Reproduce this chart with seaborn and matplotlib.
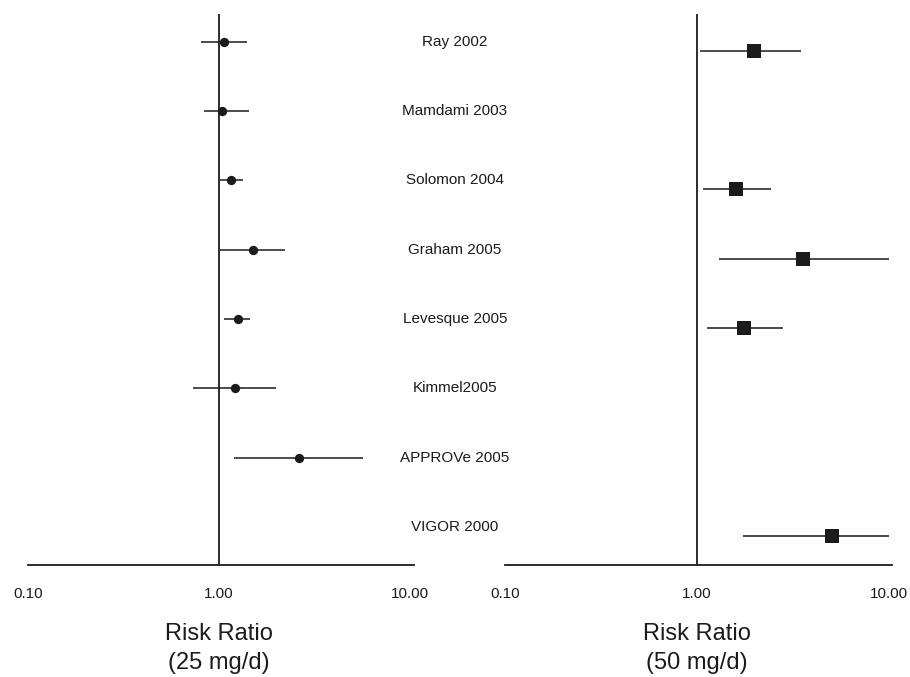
import numpy as np
import pandas as pd
import matplotlib
matplotlib.use("Agg")
import matplotlib.pyplot as plt
import matplotlib.transforms as mtransforms
import seaborn as sns

# Study names, top to bottom
studies = ["Ray 2002", "Mamdami 2003", "Solomon 2004", "Graham 2005",
           "Levesque 2005", "Kimmel2005", "APPROVe 2005", "VIGOR 2000"]

# 25 mg/d risk ratios with 95% CI (nan = no estimate)
rr25 = [1.06, 1.04, 1.16, 1.50, 1.26, 1.21, 2.62, np.nan]
lo25 = [0.80, 0.83, 1.01, 1.01, 1.06, 0.73, 1.20, np.nan]
hi25 = [1.40, 1.44, 1.33, 2.21, 1.45, 1.99, 5.67, np.nan]

# 50 mg/d risk ratios with 95% CI
rr50 = [1.98, np.nan, 1.60, 3.57, 1.76, np.nan, np.nan, 5.05]
lo50 = [1.04, np.nan, 1.07, 1.30, 1.13, np.nan, np.nan, 1.74]
hi50 = [3.48, np.nan, 2.43, 10.0, 2.80, np.nan, np.nan, 10.0]

ticks = [0.1, 1.0, 10.0]
INK = "#1c1a1b"

sns.set_theme(style="white")
plt.rcParams['font.family'] = ['Liberation Sans', 'DejaVu Sans']

df = pd.DataFrame({"study": studies, "row": np.arange(len(studies)),
                   "rr25": rr25, "lo25": lo25, "hi25": hi25,
                   "rr50": rr50, "lo50": lo50, "hi50": hi50})

fig = plt.figure(figsize=(9.1, 6.77), dpi=100)
ax1 = fig.add_axes([0.0308, 0.1654, 0.4242, 0.8139])
ax2 = fig.add_axes([0.5550, 0.1654, 0.4253, 0.8139])


def forest(ax, dose, marker, size, shift, xmax):
    d = df.dropna(subset=["rr" + dose]).copy()
    d["y"] = d["row"] + shift
    ax.hlines(d["y"], d["lo" + dose], d["hi" + dose], color=INK, lw=1.1)
    sns.scatterplot(data=d, x="rr" + dose, y="y", marker=marker, s=size,
                    color=INK, edgecolor=INK, linewidth=0, ax=ax, legend=False)
    ax.axvline(1.0, color=INK, lw=1.3)
    ax.set_xscale("log")
    ax.set_xlim(0.1, xmax)
    ax.set_ylim(7.55, -0.40)
    ax.set_xticks(ticks)
    ax.set_xticklabels(["%.2f" % t for t in ticks])
    ax.minorticks_off()
    ax.set_yticks([])
    ax.set_xlabel("")
    ax.set_ylabel("")
    ax.tick_params(axis="x", length=0, pad=16, labelsize=11, colors=INK)
    for side in ["left", "right", "top"]:
        ax.spines[side].set_visible(False)
    ax.spines["bottom"].set_color(INK)
    ax.spines["bottom"].set_linewidth(1.3)


forest(ax1, "25", "o", 45, 0.0, 10.5)
forest(ax2, "50", "s", 100, 0.13, 10.4)

# Study labels between the two panels
trans = mtransforms.blended_transform_factory(fig.transFigure, ax1.transData)
for name, r in zip(df["study"], df["row"]):
    fig.text(0.5, r, name, transform=trans, ha="center", va="center",
             fontsize=11, color=INK)

for xc, dose in [(0.2407, "25"), (0.766, "50")]:
    fig.text(xc, 0.0635, "Risk Ratio", ha="center", va="center",
             fontsize=17, color=INK)
    fig.text(xc, 0.0207, "(%s mg/d)" % dose, ha="center", va="center",
             fontsize=17, color=INK)

fig.savefig("out.png", dpi=100, facecolor="white")
